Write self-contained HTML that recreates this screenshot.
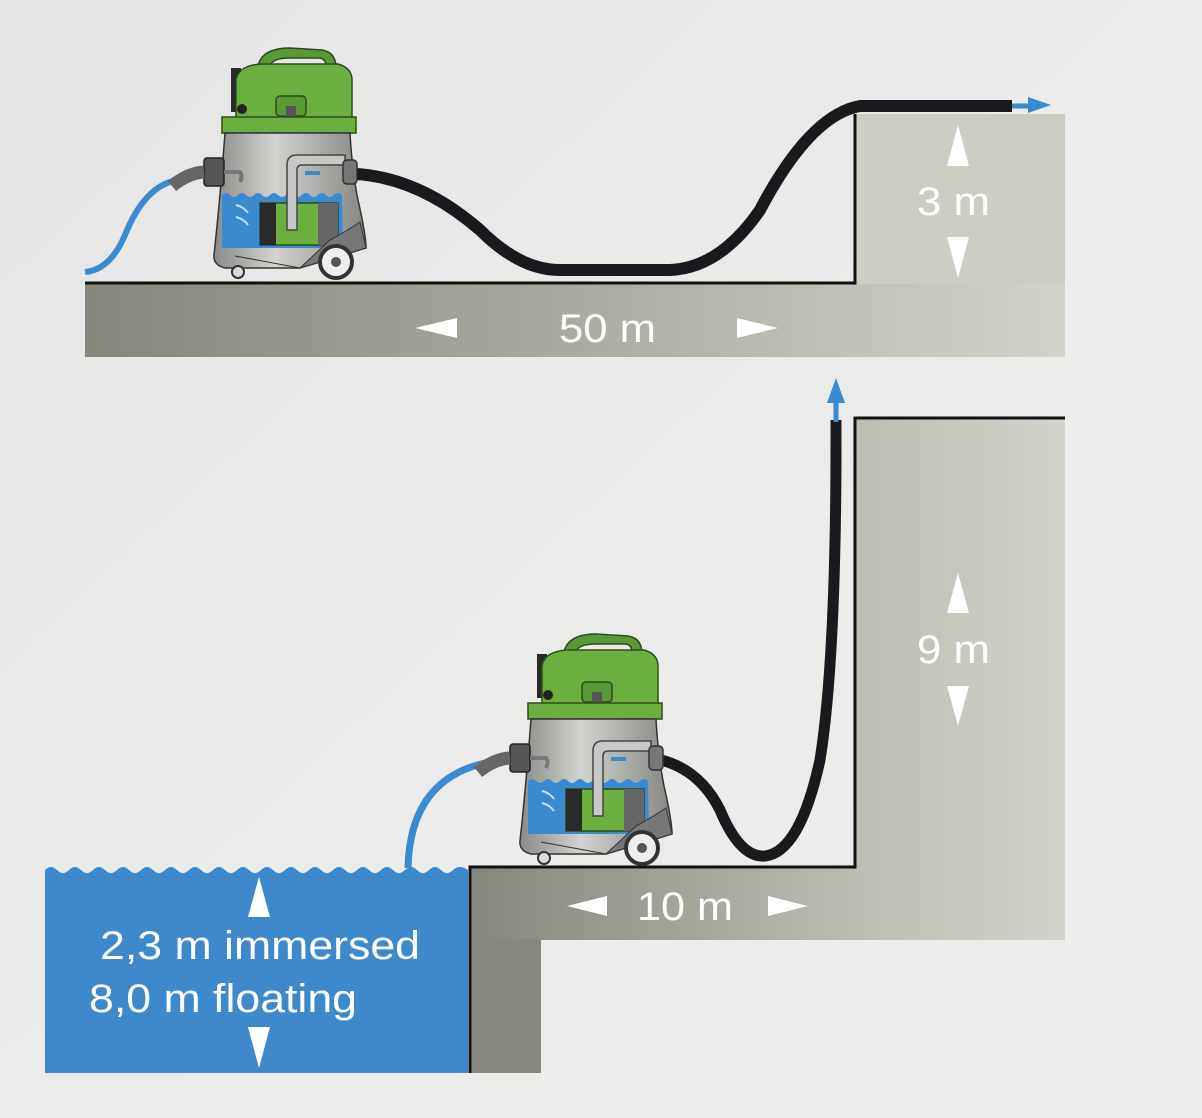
<!DOCTYPE html>
<html><head><meta charset="utf-8"><style>html,body{margin:0;padding:0;background:#e9eae9}svg{display:block}</style></head><body>
<svg width="1202" height="1118" viewBox="0 0 1202 1118" xmlns="http://www.w3.org/2000/svg" font-family="Liberation Sans, sans-serif">
<defs>
<linearGradient id="bg" x1="0" y1="0" x2="1" y2="1"><stop offset="0" stop-color="#e4e5e4"/><stop offset="0.5" stop-color="#ebebea"/><stop offset="1" stop-color="#eeeeed"/></linearGradient>
<linearGradient id="gnd" x1="0" y1="0" x2="1" y2="0"><stop offset="0" stop-color="#85867c"/><stop offset="0.5" stop-color="#aaaba0"/><stop offset="1" stop-color="#d3d3cb"/></linearGradient>
<linearGradient id="gnd2" x1="470" y1="0" x2="1065" y2="0" gradientUnits="userSpaceOnUse"><stop offset="0" stop-color="#85867c"/><stop offset="0.6" stop-color="#b8b9ae"/><stop offset="1" stop-color="#d3d3cb"/></linearGradient>
<linearGradient id="steel" x1="0" y1="0" x2="1" y2="0"><stop offset="0" stop-color="#8a8a88"/><stop offset="0.4" stop-color="#d2d2ce"/><stop offset="1" stop-color="#858582"/></linearGradient>
<g id="vac">
 <path d="M258 66 Q262 48 290 48 L322 50 Q335 52 336 66 L326 66 Q326 58 318 58 L290 58 Q272 58 270 66Z" fill="#5a9a35" stroke="#2f4a1f" stroke-width="1.5"/>
 <rect x="231" y="68" width="10" height="44" fill="#2a2a2a"/>
 <path d="M236 118 L236 80 Q238 66 260 64 L338 64 Q352 68 352 80 L352 118Z" fill="#6bb03f" stroke="#2f4a1f" stroke-width="1.5"/>
 <rect x="276" y="96" width="30" height="20" rx="4" fill="#5a9a35" stroke="#2f4a1f" stroke-width="1.5"/>
 <rect x="286" y="106" width="10" height="26" fill="#555"/>
 <circle cx="242" cy="109" r="5" fill="#222"/>
 <rect x="222" y="117" width="134" height="16" fill="#6bb03f" stroke="#2f4a1f" stroke-width="1.5"/>
 <path d="M225 133 L350 133 Q352 170 358 200 Q366 235 366 248 L300 268 L225 268 Q213 265 214 255 Q220 200 225 133Z" fill="url(#steel)" stroke="#333" stroke-width="1.5"/>
 <path d="M222 195 Q226 191 230 195 T238 195 T246 195 T254 195 T262 195 T270 195 T278 195 T286 195 T294 195 T302 195 T310 195 T318 195 T326 195 T334 195 T342 195 L343 248 L222 248Z" fill="#3a8ad0"/>
 <path d="M236 205 q8 2 12 8 M236 217 q8 2 12 8" stroke="#bfe0f8" stroke-width="2" fill="none"/>
 <rect x="260" y="203" width="78" height="42" fill="#6bb03f" stroke="#2f4a1f" stroke-width="1.5"/>
 <rect x="260" y="203" width="16" height="42" fill="#2a2a2a"/>
 <rect x="318" y="203" width="20" height="42" fill="#666"/>
 <path d="M287 230 L287 165 Q287 155 297 155 L345 155 L345 165 L302 165 Q297 165 297 170 L297 230Z" fill="#c8c8c8" stroke="#444" stroke-width="1.5"/>
 <path d="M305 173 L320 173" stroke="#3a8ad0" stroke-width="4"/>
 <rect x="343" y="160" width="14" height="24" rx="4" fill="#777" stroke="#333" stroke-width="1.5"/>
 <rect x="204" y="158" width="20" height="28" rx="3" fill="#555" stroke="#222" stroke-width="1.5"/>
 <path d="M224 172 L240 172 Q243 176 240 182" stroke="#777" stroke-width="4" fill="none"/>
 <path d="M172 186 Q188 173 204 172" stroke="#666" stroke-width="13" fill="none"/>
 <path d="M235 256 L300 268 L366 248 L360 222 Q345 232 330 240 L300 268" fill="#777" stroke="#333" stroke-width="1"/>
 <circle cx="336" cy="262" r="16" fill="#eee" stroke="#333" stroke-width="4"/>
 <circle cx="336" cy="262" r="5" fill="#555"/>
 <circle cx="238" cy="272" r="6" fill="#ddd" stroke="#333" stroke-width="2"/>
</g>
</defs>
<rect width="1202" height="1118" fill="url(#bg)"/>

<rect x="85" y="283" width="980" height="74" fill="url(#gnd)"/>
<rect x="855" y="114" width="210" height="170" fill="#cdcdc4"/>
<path d="M85 283 L855 283 L855 114" stroke="#111" stroke-width="3" fill="none"/>
<path d="M85 272 Q110 270 125 235 Q145 185 178 180" stroke="#3a8ad0" stroke-width="6" fill="none"/>
<path d="M356 174 Q420 178 480 230 Q520 270 560 270 L670 270 Q720 268 760 210 Q810 115 860 106 L1012 106" stroke="#1a1a1e" stroke-width="12" fill="none"/>
<path d="M1012 106 L1032 106" stroke="#3a8ad0" stroke-width="5"/>
<path d="M1028 97 L1051 105 L1028 113Z" fill="#3a8ad0"/>
<use href="#vac"/>
<g fill="#fff">
<path d="M958 125 L969 166 L947 166Z"/><path d="M958 278 L969 237 L947 237Z"/>
<path d="M415 328 L457 318 L457 338Z"/><path d="M778 328 L737 318 L737 338Z"/>
</g>
<text x="917" y="215" font-size="40" fill="#fff" textLength="73" lengthAdjust="spacingAndGlyphs">3 m</text>
<text x="559" y="342" font-size="40" fill="#fff" textLength="97" lengthAdjust="spacingAndGlyphs">50 m</text>

<rect x="855" y="418" width="210" height="452" fill="url(#gnd2)"/>
<rect x="470" y="867" width="595" height="73" fill="url(#gnd2)"/>
<rect x="470" y="939" width="71" height="134" fill="#86877d"/>
<path d="M470 1073 L470 867 L855 867 L855 418 L1065 418" stroke="#111" stroke-width="3" fill="none"/>
<path d="M45 870 Q51 864 57 870 T69 870 T81 870 T93 870 T105 870 T117 870 T129 870 T141 870 T153 870 T165 870 T177 870 T189 870 T201 870 T213 870 T225 870 T237 870 T249 870 T261 870 T273 870 T285 870 T297 870 T309 870 T321 870 T333 870 T345 870 T357 870 T369 870 T381 870 T393 870 T405 870 T417 870 T429 870 T441 870 T453 870 T468 870 L468 1073 L45 1073Z" fill="#3d89cb"/>
<path d="M408 868 Q410 780 485 763" stroke="#3a8ad0" stroke-width="7" fill="none"/>
<path d="M661 760 Q700 770 720 810 Q740 858 765 856 Q800 852 820 760 Q836 660 836 440 L836 420" stroke="#1a1a1e" stroke-width="11" fill="none"/>
<path d="M836 422 L836 400" stroke="#3a8ad0" stroke-width="5"/>
<path d="M827 403 L836 378 L845 403Z" fill="#3a8ad0"/>
<use href="#vac" transform="translate(306 586)"/>
<g fill="#fff">
<path d="M958 573 L969 613 L947 613Z"/><path d="M958 726 L969 686 L947 686Z"/>
<path d="M567 906 L607 896 L607 916Z"/><path d="M808 906 L768 896 L768 916Z"/>
<path d="M259 877 L270 917 L248 917Z"/><path d="M259 1068 L270 1027 L248 1027Z"/>
</g>
<text x="917" y="663" font-size="40" fill="#fff" textLength="73" lengthAdjust="spacingAndGlyphs">9 m</text>
<text x="637" y="920" font-size="40" fill="#fff" textLength="96" lengthAdjust="spacingAndGlyphs">10 m</text>
<text x="100" y="959" font-size="40" fill="#fff" textLength="320" lengthAdjust="spacingAndGlyphs">2,3 m immersed</text>
<text x="89" y="1012" font-size="40" fill="#fff" textLength="268" lengthAdjust="spacingAndGlyphs">8,0 m floating</text>
</svg>
</body></html>
